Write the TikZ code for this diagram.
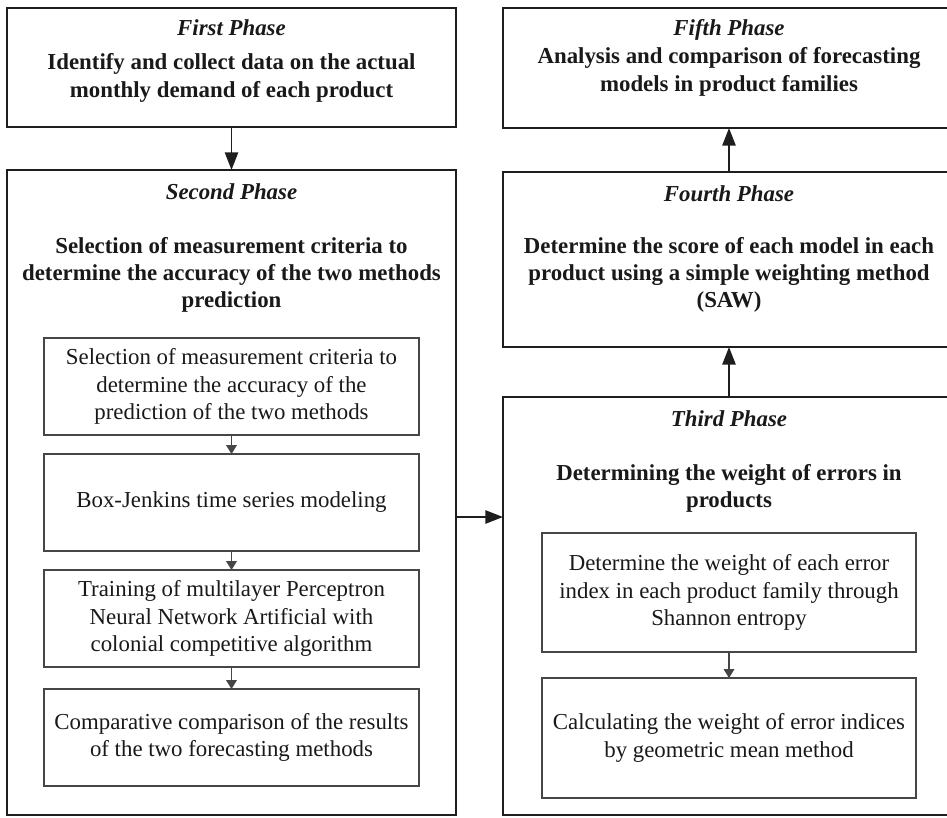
\documentclass[tikz,border=0pt]{standalone}
\usepackage{fontspec}
\setmainfont{Liberation Serif}
\usepackage{xcolor}
\usetikzlibrary{arrows.meta,positioning}
\definecolor{frame}{RGB}{30,30,30}
\definecolor{subframe}{RGB}{70,70,70}
\definecolor{ink}{RGB}{25,25,25}

\begin{document}
\begin{tikzpicture}[
  phasebox/.style={draw=frame,line width=1.1pt,inner sep=0pt,outer sep=0pt},
  taskbox/.style={draw=subframe,line width=0.7pt,fill=white,inner sep=0pt,outer sep=0pt,
    minimum width=7.5cm,minimum height=1.94cm,align=center,text=ink,
    font=\fontsize{13}{15.5}\selectfont},
  phasetitle/.style={font=\fontsize{13}{15.5}\selectfont\bfseries\itshape,text=ink},
  phasetext/.style={font=\fontsize{13}{15.5}\selectfont\bfseries,align=center,text=ink},
  flow/.style={-{Triangle[length=10pt,width=7.5pt]},line width=1.1pt,draw=frame},
  subflow/.style={-{Triangle[length=5pt,width=6pt]},line width=0.7pt,draw=subframe}]
  \useasboundingbox (0,0) rectangle (18.94,-16.34);
  % left column
  \node[phasebox,minimum width=8.98cm,minimum height=2.38cm] (first) at (4.63,-1.35) {};
  \node[phasetitle] (firsttitle) at (4.63,-0.56) {First Phase};
  \node[phasetext] (firsttext) at (4.63,-1.56)
    {Identify and collect data on the actual\\ monthly demand of each product};
  \node[phasebox,minimum width=8.98cm,minimum height=12.90cm] (second) at (4.63,-9.85) {};
  \node[phasetitle] (secondtitle) at (4.63,-3.84) {Second Phase};
  \node[phasetext] (secondtext) at (4.63,-5.50)
    {Selection of measurement criteria to\\ determine the accuracy of the two methods\\ prediction};
  \node[taskbox] (criteria) at (4.63,-7.73)
    {Selection of measurement criteria to\\ determine the accuracy of the\\ prediction of the two methods};
  \node[taskbox] (boxjenkins) at (4.63,-10.05) {Box-Jenkins time series modeling};
  \node[taskbox] (training) at (4.63,-12.37)
    {Training of multilayer Perceptron\\ Neural Network Artificial with\\ colonial competitive algorithm};
  \node[taskbox] (compare) at (4.63,-14.75)
    {Comparative comparison of the results\\ of the two forecasting methods};
  % right column
  \node[phasebox,minimum width=9.04cm,minimum height=2.40cm] (fifth) at (14.58,-1.36) {};
  \node[phasetitle] (fifthtitle) at (14.58,-0.60) {Fifth Phase};
  \node[phasetext] (fifthtext) at (14.58,-1.44)
    {Analysis and comparison of forecasting\\ models in product families};
  \node[phasebox,minimum width=9.04cm,minimum height=3.50cm] (fourth) at (14.58,-5.19) {};
  \node[phasetitle] (fourthtitle) at (14.58,-3.88) {Fourth Phase};
  \node[phasetext] (fourthtext) at (14.58,-5.50)
    {Determine the score of each model in each\\ product using a simple weighting method\\ (SAW)};
  \node[phasebox,minimum width=9.04cm,minimum height=8.36cm] (third) at (14.58,-12.12) {};
  \node[phasetitle] (thirdtitle) at (14.58,-8.38) {Third Phase};
  \node[phasetext] (thirdtext) at (14.58,-9.77)
    {Determining the weight of errors in\\ products};
  \node[taskbox,minimum width=7.48cm,minimum height=2.38cm] (entropy) at (14.58,-11.85)
    {Determine the weight of each error\\ index in each product family through\\ Shannon entropy};
  \node[taskbox,minimum width=7.48cm,minimum height=2.40cm] (geomean) at (14.58,-14.76)
    {Calculating the weight of error indices\\ by geometric mean method};
  % connectors
  \coordinate (linky) at (9.4,-10.34);
  \draw[flow] (first) -- (second);
  \draw[subflow] (criteria) -- (boxjenkins);
  \draw[subflow] (boxjenkins) -- (training);
  \draw[subflow] (training) -- (compare);
  \draw[flow] (second.east |- linky) -- (third.west |- linky);
  \draw[subflow] (entropy) -- (geomean);
  \draw[flow] (third) -- (fourth);
  \draw[flow] (fourth) -- (fifth);
\end{tikzpicture}
\end{document}
